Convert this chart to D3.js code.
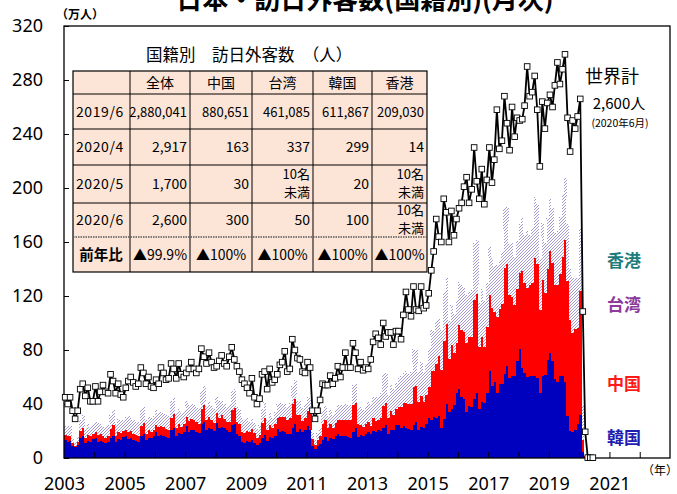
<!DOCTYPE html>
<html><head><meta charset="utf-8">
<script src="https://cdn.jsdelivr.net/npm/d3@7"></script>
<style>
  body{margin:0;background:#fff;}
  svg{display:block;font-family:"Noto Sans CJK JP","Noto Sans",sans-serif;}
</style></head>
<body><svg id="chart" width="677" height="494"></svg>
<script>
// monthly values, 万人, 2003/1 .. 2020/6
const total = [
  45,40,45,35,29,35,51,55,46,52,42,42,        // 2003
  53,42,49,54,49,48,62,57,48,55,47,45,        // 2004
  52,57,60,56,53,55,67,63,55,60,53,52,        // 2005
  58,55,67,63,58,59,70,66,59,70,62,60,        // 2006
  63,66,71,66,63,66,81,75,70,78,71,67,        // 2007
  68,72,76,70,68,75,82,73,68,64,58,55,        // 2008
  52,48,59,45,40,44,62,64,51,66,56,58,        // 2009
  62,69,71,79,64,66,88,80,74,73,64,63,        // 2010
  71,67,35,29,35,43,55,54,54,61,55,59,        // 2011
  68,60,67,78,67,67,85,78,66,71,65,67,        // 2012
  66,73,86,92,89,84,100,90,93,93,84,94,       // 2013
  94,88,106,123,110,105,127,110,109,127,111,113, // 2014
  122,139,153,177,164,160,192,182,160,183,165,177, // 2015
  185,189,201,208,189,199,230,205,192,214,188,206, // 2016
  230,204,221,258,229,235,268,248,228,260,238,252, // 2017
  250,251,261,290,268,271,283,258,216,264,244,263, // 2018
  269,260,276,293,277,288,299,252,227,250,244,253, // 2019
  266,108.5,19.4,0.29,0.17,0.26               // 2020
];
const korea = [
  13.5,12,12.5,9,8,9.5,14.5,16.5,11,12.5,12,14,
  15,12,12.5,11.5,11,11.5,14.5,16.5,11.5,14,13.5,15.5,
  16,14,14.5,13,12.5,12,16.5,18,13,15,14.5,16.5,
  19,16,17,16.5,15.5,14.5,20.5,22,16,18.5,17.5,19.5,
  24,19.5,21,20.5,19.5,18.5,25.5,27,20.5,22.5,21.5,20,
  26,22.5,23,22,20.5,19.5,24.5,25.5,18,16,11.5,11,
  12.5,11.5,13.5,11,10,11,14.5,17,12.5,15.5,14.5,16,
  21.5,19,20,19.5,18,17.5,22.5,25,19.5,21.5,19,21,
  23.5,21,9,6.5,9,10.5,13.5,15.5,12.5,14.5,14,16.5,
  17.5,16,16.5,16,15.5,15,19,22,15.5,17,16,18,
  19,18,20,19,20.5,20,22,24.5,17.5,21,20.5,24.5,
  24.5,22,23.5,22,21.5,20.5,24.5,26.5,20.5,23,22.5,25.5,
  30,28.5,30.5,30,31,22.5,29,40,34,36,39.5,48,
  51,45,43.5,34,38.5,38,44,48.5,36.5,41.5,40.5,48.5,
  64.5,53.5,56,48.5,55,55,62.5,68,59,60.5,60.5,71.5,
  80.5,66.5,63,60,60.5,60.5,60.5,59.5,48.5,60.5,61.5,72.5,
  78,72,58.5,56.5,60.5,61,56.5,31,20,19.5,20.5,25,
  31.5,4.7,0.17,0.03,0.002,0.01
];
const china = [
  3.5,4.5,4,2,1,2,5.5,6,4,4.5,4,3.5,
  4,5,5,4.5,4,4.5,7,8,5,5.5,5,4.5,
  4.5,5.5,5.5,5,4.5,4.5,7.5,8,5,5.5,5,4.5,
  5.5,7,6.5,6.5,6,6,9,10.5,6.5,6.5,5.5,5.5,
  6.5,8,8,7.5,7,7,10.5,12,7.5,8,6.5,6,
  7.5,7.5,8.5,7,6.5,7.5,11,11.5,8.5,9,7.5,7.5,
  7.5,8,8,7.5,5,6,11.5,13,8,9,8,9,
  8.5,11.5,10.5,11,10.5,12.5,17.5,19,12.5,10,8.5,9,
  11,11.5,5,3,4.5,5.5,12,12.5,10,11,8.5,9.5,
  10.5,12,12,12.5,12.5,13,20.5,18.5,9.5,7.5,7,7,
  8,6,9.5,8.5,8,10,16.5,16.5,12,13.5,11,11.5,
  13,15.5,17.5,19,18.5,19.5,28,26.5,21,23,19,21.5,
  22.5,36,34,40,44.5,42.5,57.5,59,39.5,47.5,38.5,37.5,
  47.5,50,50,51.5,51.5,51.5,73,73,45.5,48,42,48.5,
  56,57.5,52,56,55.5,59,78,75.5,62,59,53,53.5,
  56.5,72,66.5,66,68,69.5,87.5,84,61.5,71.5,61,67.5,
  75.5,72.5,69.5,72,75.5,88,105,100,82,73,75,71,
  92.5,8.9,1.1,0.016,0.003,0.03
];
const taiwan = [
  7,7.5,7,4,2.5,4.5,8,9,6.5,8,7,7.5,
  8.5,9.5,8,8,8,8.5,10.5,11,9,9.5,9,8.5,
  10,11.5,9.5,10,10,10.5,12.5,12.5,10.5,10,10,10,
  11,10,10.5,10.5,10.5,10.5,13,13,10.5,11,10.5,10,
  11.5,12,11,11.5,11,11.5,13.5,14,10.5,11.5,10.5,10,
  11.5,12,11,11,11,12,14,14,11,11,10.5,10,
  9.5,7.5,8.5,7.5,6.5,7.5,10.5,11.5,8,8.5,7.5,9,
  10,10.5,9.5,10,9.5,10.5,13,14,10.5,10.5,9.5,10,
  11,12,5,3.5,5,6.5,9,10.5,8.5,10,9,9.5,
  11.5,11,11,11.5,11,11.5,14.5,14,12,13.5,12.5,13,
  14.5,16,15.5,17.5,17,18.5,23.5,22,17.5,20.5,19.5,19.5,
  22,23,22,23.5,22,23.5,28.5,27,22,25,22,23,
  28.5,30.5,29.5,31.5,28.5,30,36.5,35,28,30,29,30.5,
  32,33.5,33.5,35,33,35,42,40,32.5,36,34,33,
  36,37.5,34,38.5,36,38.5,45,42.5,37.5,39.5,35.5,36,
  36.5,39.5,36,42,37,40.5,45.5,45,37.5,42,37,37.5,
  38,41,38.5,40,42.5,46,46,42.5,38.5,41.5,37.5,37.5,
  46,25.5,1.6,0.03,0,0.005
];
const hongkong = [
  2,2,2.2,1.5,1,1.5,3,3,2,2.5,2.5,3,
  2.5,2.5,2.5,2.5,2.2,2.5,3,3,2.2,2.5,2.5,3,
  2.5,2.5,2.5,2.5,2.2,2.5,3,2.8,2.2,2.5,2.5,3,
  2.8,2.8,3,3,2.5,2.5,3.5,3.5,2.5,3,3,3.5,
  3.2,3.5,3.5,3.5,3,3.2,4.5,4,3.2,3.5,3.8,4.5,
  4,4.5,4.5,4.5,4,4.2,5.5,5,4,4.5,4.8,5.5,
  4,3.5,4,3.8,2.5,3,4.5,4.5,3.5,4,3.8,4.5,
  4.5,4,4.5,4,3.5,3.8,5,4.5,3.8,4.5,4,5,
  4.5,4,2,1,1.5,2.5,4,3.5,3,3.5,3,4,
  4,3.5,4,4,3.5,3.8,4.5,4,3.5,4,4,5,
  5,5,6,6,5.5,5.5,7.5,7,5.5,6.5,6.5,8,
  7,7,8,8,7,7,9.5,9,6.5,7.5,7.5,9.5,
  9.5,10.5,12.5,13.5,12,11.5,16,15,11,12.5,13,15.5,
  14,14.5,16,16,13.5,14,19,18,13.5,15.5,15.5,19,
  16.5,17,19,19.5,17,17.5,21.5,20.5,15.5,17.5,18.5,23.5,
  17,17.5,19.5,20,17.5,18,20,19.5,16.5,18.5,17.5,19.5,
  18,18.5,19.5,19,17.5,21,21.5,20,18,18.5,17,20,
  18,6,0.1,0.0014,0,0
];

const yTicks = [0,40,80,120,160,200,240,280,320];
const yearLabels = [2003,2005,2007,2009,2011,2013,2015,2017,2019,2021];

const tableTitle = "国籍別　訪日外客数　（人）";
const tableCols = ["全体","中国","台湾","韓国","香港"];
const tableRows = ["2019/6","2020/4","2020/5","2020/6","前年比"];
const tableVals = [
  ["2,880,041","880,651","461,085","611,867","209,030"],
  ["2,917","163","337","299","14"],
  ["1,700","30","10名\n未満","20","10名\n未満"],
  ["2,600","300","50","100","10名\n未満"],
  ["▲99.9%","▲100%","▲100%","▲100%","▲100%"]
];

const W = 677, H = 494;
const L = 64, R = 670, T = 26, B = 458;
const svg = d3.select("#chart");

const months = d3.range(total.length).map(i => new Date(2003, i, 1));
const rows = months.map((d,i) => ({date:d, kr:korea[i], cn:china[i], tw:taiwan[i], hk:hongkong[i], tot:total[i]}));

const x = d3.scaleTime().domain([new Date(2003,0,1), new Date(2023,0,1)]).range([L, R]);
const y = d3.scaleLinear().domain([0,320]).range([B, T]);

// hatch for Taiwan
const defs = svg.append("defs");
const pat = defs.append("pattern").attr("id","hatch").attr("patternUnits","userSpaceOnUse")
  .attr("width",3).attr("height",3);
pat.append("rect").attr("width",3).attr("height",3).attr("fill","#fff");
pat.append("path").attr("d","M-0.75,0.75 l1.5,-1.5 M0,3 l3,-3 M2.25,3.75 l1.5,-1.5")
  .attr("stroke","#8c7fc4").attr("stroke-width",0.8);

const colors = {kr:"#0000bf", cn:"#ff0000", tw:"url(#hatch)", hk:"#ffffff"};
const stack = d3.stack().keys(["kr","cn","tw","hk"])(rows);

const gBars = svg.append("g").attr("shape-rendering","crispEdges");
stack.forEach(layer => {
  gBars.append("g").attr("fill", colors[layer.key])
    .selectAll("rect").data(layer).enter().append("rect")
    .attr("x", d => x(d.data.date))
    .attr("width", d => x(d3.timeMonth.offset(d.data.date,1)) - x(d.data.date) + 0.4)
    .attr("y", d => y(d[1]))
    .attr("height", d => Math.max(0, y(d[0]) - y(d[1])));
});

// axes
const yAxis = d3.axisLeft(y).tickValues(yTicks).tickSize(-5).tickPadding(21);
svg.append("g").attr("transform",`translate(${L},0)`).call(yAxis)
  .call(g => g.select(".domain").remove())
  .call(g => g.selectAll("text").attr("font-size",18).attr("fill","#000")
    .attr("font-family","'Noto Sans',sans-serif"));

const xAxis = d3.axisBottom(x).ticks(d3.timeYear.every(1)).tickSize(-6).tickPadding(19)
  .tickFormat(d => yearLabels.includes(d.getFullYear()) ? d.getFullYear() : "");
svg.append("g").attr("transform",`translate(0,${B})`).call(xAxis)
  .call(g => g.select(".domain").remove())
  .call(g => g.selectAll(".tick").filter(d => d.getFullYear() === 2003 || d.getFullYear() === 2023).select("line").remove())
  .call(g => g.selectAll("text").attr("font-size",18).attr("fill","#000")
    .attr("font-family","'Noto Sans',sans-serif"));

// frame
svg.append("rect").attr("x",L).attr("y",T).attr("width",R-L).attr("height",B-T)
  .attr("fill","none").attr("stroke","#000").attr("stroke-width",1.3);

// total line
const mid = d => new Date(d.getFullYear(), d.getMonth(), 15);
const line = d3.line().x(d => x(mid(d.date))).y(d => y(d.tot));
svg.append("path").datum(rows).attr("d", line)
  .attr("fill","none").attr("stroke","#000").attr("stroke-width",1.8).attr("stroke-linejoin","round");
svg.append("g").selectAll("rect").data(rows).enter().append("rect")
  .attr("x", d => x(mid(d.date)) - 2.8).attr("y", d => y(d.tot) - 2.8)
  .attr("width",5.6).attr("height",5.6)
  .attr("fill","#fff").attr("stroke","#000").attr("stroke-width",0.9);

// texts (title is clipped at the top edge, as in the original)
svg.append("text").attr("x",365).attr("y",9).attr("text-anchor","middle")
  .attr("font-size",26).attr("font-weight","bold").text("日本・訪日外客数(国籍別)(月次)");
svg.append("text").attr("x",80).attr("y",19).attr("text-anchor","middle")
  .attr("font-size",12).attr("font-weight","bold").text("（万人）");
svg.append("text").attr("x",660).attr("y",475).attr("text-anchor","middle")
  .attr("font-size",12).text("（年）");

svg.append("text").attr("x",612).attr("y",83).attr("text-anchor","middle")
  .attr("font-size",18).text("世界計");
svg.append("text").attr("x",619).attr("y",109).attr("text-anchor","middle")
  .attr("font-size",15).text("2,600人");
svg.append("text").attr("x",620).attr("y",127).attr("text-anchor","middle")
  .attr("font-size",10.5).text("(2020年6月)");

const legend = [["香港","#1e7b7b",267],["台湾","#8b3a9b",311],["中国","#ff1a1a",390],["韓国","#2020b0",444]];
svg.append("g").selectAll("text").data(legend).enter().append("text")
  .attr("x",624).attr("y",d => d[2]).attr("text-anchor","middle")
  .attr("font-size",17).attr("font-weight","bold").attr("fill",d => d[1]).text(d => d[0]);

// table
const cx = [73,130,190,252,313,372,427];
const ry = [71,94,129,165,203,237,272];
const gT = svg.append("g");
gT.append("text").attr("x",249).attr("y",61).attr("text-anchor","middle")
  .attr("font-size",16.5).text(tableTitle);
gT.append("rect").attr("x",cx[0]).attr("y",ry[0]).attr("width",cx[6]-cx[0]).attr("height",ry[6]-ry[0])
  .attr("fill","#fce4d6").attr("stroke","#000").attr("stroke-width",1.2);
cx.slice(1,6).forEach(v => gT.append("line").attr("x1",v).attr("x2",v).attr("y1",ry[0]).attr("y2",ry[6])
  .attr("stroke","#000").attr("stroke-width",1));
ry.slice(1,6).forEach((v,i) => gT.append("line").attr("x1",cx[0]).attr("x2",cx[6]).attr("y1",v).attr("y2",v)
  .attr("stroke", i === 4 ? "#555" : "#000").attr("stroke-width", i === 4 ? 1.4 : 1)
  .attr("stroke-dasharray", i === 4 ? "1.5,1" : null));

tableCols.forEach((c,j) => gT.append("text").attr("x",(cx[j+1]+cx[j+2])/2).attr("y",ry[0]+17)
  .attr("text-anchor","middle").attr("font-size",14).text(c));
tableRows.forEach((r,i) => gT.append("text").attr("x", i === 4 ? 101 : 76)
  .attr("y",(ry[i+1]+ry[i+2])/2 + 5).attr("text-anchor", i === 4 ? "middle" : "start")
  .attr("font-size", i === 4 ? 14.5 : 14).attr("font-weight", i === 4 ? "bold" : null)
  .attr("letter-spacing", i === 4 ? 0 : 0.6).text(r));
tableVals.forEach((row,i) => row.forEach((v,j) => {
  const xr = cx[j+2] - 3, yc = (ry[i+1]+ry[i+2])/2;
  const parts = v.split("\n");
  if (parts.length === 2) {
    gT.append("text").attr("x",xr).attr("y",yc - 5).attr("text-anchor","end").attr("font-size",13).text(parts[0]);
    gT.append("text").attr("x",xr).attr("y",yc + 13).attr("text-anchor","end").attr("font-size",13).text(parts[1]);
  } else {
    gT.append("text").attr("x", i === 4 ? (cx[j+1]+cx[j+2])/2 : xr).attr("y",yc + 5)
      .attr("text-anchor", i === 4 ? "middle" : "end")
      .attr("font-size", i === 0 ? 13 : 14).text(v);
  }
}));
</script></body></html>
